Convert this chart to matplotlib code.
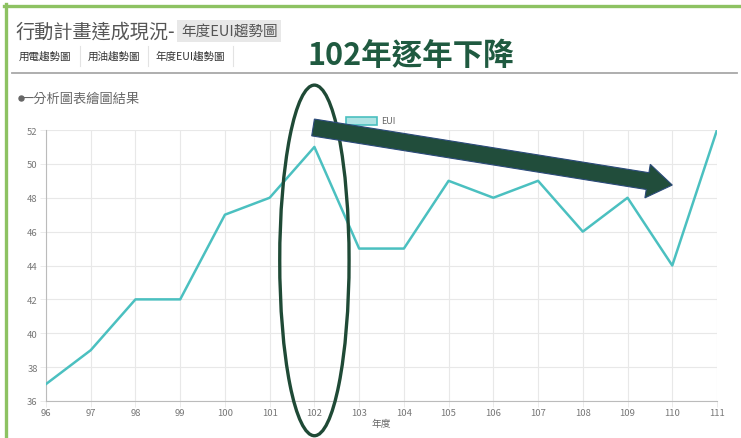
import matplotlib
matplotlib.use("Agg")
import matplotlib.pyplot as plt
from matplotlib.patches import Ellipse, FancyArrow, Rectangle
from matplotlib.lines import Line2D
from matplotlib.transforms import IdentityTransform

plt.rcParams['font.family'] = ['Noto Sans CJK TC', 'DejaVu Sans']

# data
years = [96, 97, 98, 99, 100, 101, 102, 103, 104, 105, 106, 107, 108, 109, 110, 111]
eui = [37, 39, 42, 42, 47, 48, 51, 45, 45, 49, 48, 49, 46, 48, 44, 52]
yticks = [36, 38, 40, 42, 44, 46, 48, 50, 52]
tabs = ['用電趨勢圖', '用油趨勢圖', '年度EUI趨勢圖']

W, H = 741, 439
fig = plt.figure(figsize=(W / 100, H / 100), dpi=100)


def fx(px):
    return px / W


def fy(py):
    return 1 - py / H


# page frame: green border on top and left, grey rule under the tabs
fig.add_artist(Line2D([fx(4), fx(741)], [fy(6.5), fy(6.5)], color='#8dc262', lw=2.4))
fig.add_artist(Line2D([fx(5.5), fx(5.5)], [fy(5), fy(439)], color='#8dc262', lw=2.4))
fig.add_artist(Line2D([fx(12), fx(737)], [fy(74), fy(74)], color='#a8a8a8', lw=1.3))

# header texts
fig.text(fx(16), fy(32), '行動計畫達成現況-', fontsize=13.8, color='#555555', va='center')
fig.text(fx(181), fy(32), '年度EUI趨勢圖', fontsize=10.5, color='#555555', va='center',
         bbox=dict(boxstyle='square,pad=0.25', fc='#e8e8e8', ec='none'))

tab_x = [19, 88, 156]
for tx, t in zip(tab_x, tabs):
    fig.text(fx(tx), fy(57), t, fontsize=7.6, color='#333333', va='center')
for sx in [80, 148, 233]:
    fig.add_artist(Line2D([fx(sx), fx(sx)], [fy(47), fy(67)], color='#e3e3e3', lw=0.8))

fig.text(fx(307), fy(56), '102年逐年下降', fontsize=22, fontweight='bold',
         color='#1f5a40', va='center')

# small bullet dot drawn as a marker, the dash is part of the text
fig.add_artist(Line2D([fx(20.5)], [fy(98.5)], marker='o', ms=3.6, color='#666666', lw=0))
fig.text(fx(20), fy(99), '一分析圖表繪圖結果', fontsize=9.5, color='#666666', va='center')

# chart
ax = fig.add_axes([fx(46), fy(402), fx(717) - fx(46), fy(131) - fy(402)])
ax.plot(years, eui, color='#4bc0c0', lw=1.8, zorder=3)
ax.set_xlim(96, 111)
ax.set_ylim(36, 52)
ax.set_xticks(years)
ax.set_yticks(yticks)
ax.tick_params(labelsize=6.8, colors='#777777', length=4, width=0.6)
ax.tick_params(axis='y', pad=2)
ax.tick_params(axis='x', pad=1)
ax.grid(True, color='#e8e8e8', lw=0.8)
for s in ['top', 'right']:
    ax.spines[s].set_visible(False)
for s in ['left', 'bottom']:
    ax.spines[s].set_color('#bbbbbb')
    ax.spines[s].set_linewidth(0.8)
ax.tick_params(color='#e8e8e8')
ax.set_xlabel('年度', fontsize=7, color='#666666', labelpad=1)

# legend like the web chart
fig.add_artist(Rectangle((fx(346), fy(126)), fx(377) - fx(346), fy(118) - fy(126),
                         fc='#b0e3e3', ec='#4bc0c0', lw=1.2))
fig.text(fx(381), fy(122), 'EUI', fontsize=6.5, color='#666666', va='center')

# annotation marks: ellipse around 102 and arrow down to 110
ell = Ellipse((102, 44.3), 1.55, 20.7, fill=False, ec='#1f4a36', lw=2.4,
              clip_on=False, zorder=5)
ax.add_patch(ell)

# arrow drawn in pixels so its shape is not stretched by the axes scale
x0, y0 = ax.transData.transform((101.97, 52.15))
x1, y1 = ax.transData.transform((110, 48.75))
arr = FancyArrow(x0, y0, x1 - x0, y1 - y0, width=17, head_width=34,
                 head_length=25, length_includes_head=True,
                 fc='#214d3b', ec='#2b4a7a', lw=0.8, transform=IdentityTransform(),
                 zorder=6)
fig.add_artist(arr)

fig.savefig('out.png', dpi=100)
